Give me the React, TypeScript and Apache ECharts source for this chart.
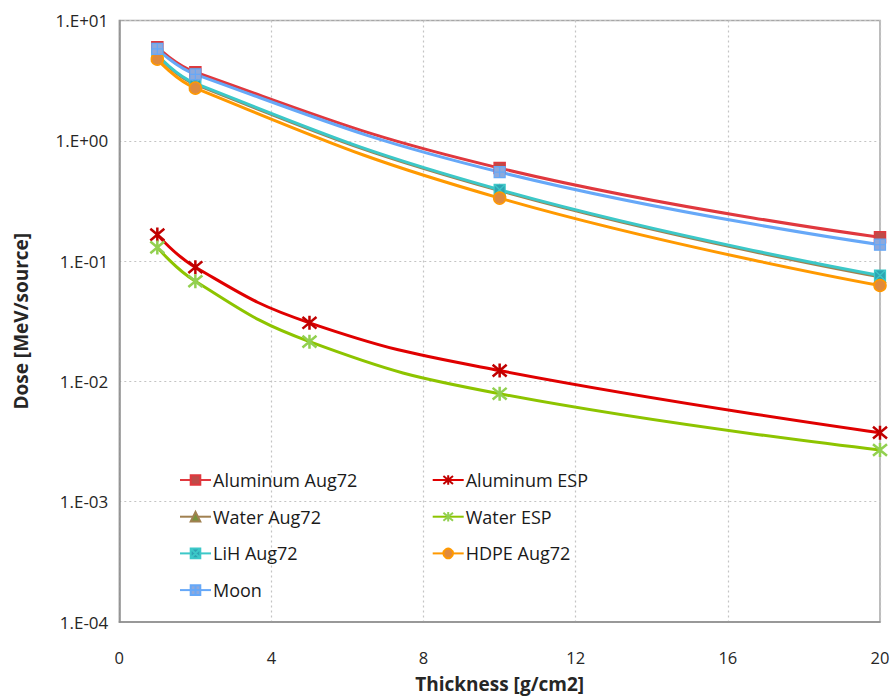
import React, { useEffect, useRef } from "react";
import * as echarts from "echarts";

const thicknessAug72 = [1, 2, 10, 20];
const thicknessESP = [1, 2, 5, 10, 20];

const aluminumAug72 = [6.0, 3.72, 0.593, 0.158];
const waterAug72 = [5.15, 2.95, 0.385, 0.074];
const lihAug72 = [5.2, 3.0, 0.392, 0.0759];
const hdpeAug72 = [4.77, 2.74, 0.334, 0.0627];
const moon = [5.8, 3.57, 0.55, 0.137];
const aluminumESP = [0.166, 0.0889, 0.0307, 0.0123, 0.00375];
const waterESP = [0.13, 0.068, 0.0214, 0.0079, 0.00269];

const xTicks = [0, 4, 8, 12, 16, 20];
const yTickLabels: Record<string, string> = {
  "1": "1.E+01",
  "0": "1.E+00",
  "-1": "1.E-01",
  "-2": "1.E-02",
  "-3": "1.E-03",
  "-4": "1.E-04",
};

const FONT = "'Open Sans', 'Noto Sans', sans-serif";

const ASTERISK = "path://M0,0L10,10M10,0L0,10M5,-1L5,11";
const SQUARE_X = "path://M0,0L10,0L10,10L0,10ZM0,0L10,10M10,0L0,10";
const SQUARE_PLUS = "path://M0,0L10,0L10,10L0,10ZM5,0L5,10M0,5L10,5";

function pairs(xs: number[], ys: number[]) {
  return xs.map((x, i) => [x, ys[i]]);
}

export default function App() {
  const ref = useRef<HTMLDivElement>(null);
  useEffect(() => {
    if (!ref.current) return;
    const chart = echarts.init(ref.current, undefined, { renderer: "svg" });
    const mk = (
      name: string,
      xs: number[],
      ys: number[],
      lineColor: string,
      symbol: string,
      symbolSize: number,
      fill: string,
      border: string,
      borderWidth: number
    ) => ({
      name,
      type: "line",
      smooth: 0.45,
      data: pairs(xs, ys),
      symbol,
      symbolSize,
      showSymbol: true,
      lineStyle: { color: lineColor, width: 3 },
      itemStyle: { color: fill, borderColor: border, borderWidth },
      emphasis: { disabled: true },
    });
    const series = [
      mk("Aluminum Aug72", thicknessAug72, aluminumAug72, "#E0383E", "rect", 11, "#BE4B48", "#E0383E", 1.5),
      mk("Aluminum ESP", thicknessESP, aluminumESP, "#E00000", ASTERISK, 14, "transparent", "#C00000", 2.5),
      mk("Water Aug72", thicknessAug72, waterAug72, "#A08050", "triangle", 11, "#77933C", "#A08050", 1.5),
      mk("Water ESP", thicknessESP, waterESP, "#8DC400", ASTERISK, 14, "transparent", "#92D050", 2.5),
      mk("LiH Aug72", thicknessAug72, lihAug72, "#3CC8C8", SQUARE_X, 11, "#2FA3B3", "#3CC8C8", 1.2),
      mk("HDPE Aug72", thicknessAug72, hdpeAug72, "#FF9900", "circle", 12, "#E08A3C", "#FF9900", 1.5),
      mk("Moon", thicknessAug72, moon, "#66A8F8", SQUARE_PLUS, 11, "#8EA9DB", "#66A8F8", 1.2),
    ];
    const legendCommon = {
      orient: "vertical",
      itemWidth: 31,
      itemHeight: 12,
      itemGap: 16.7,
      selectedMode: false,
      textStyle: { fontFamily: FONT, fontSize: 18, color: "#1a1a1a", lineHeight: 20, padding: [0, 0, 0, -3] },
      padding: 0,
    };
    chart.setOption({
      animation: false,
      backgroundColor: "#ffffff",
      grid: {
        left: 119.3,
        top: 20.5,
        width: 760.7,
        height: 601.5,
        show: true,
        borderColor: "#A6A6A6",
        borderWidth: 1.5,
        containLabel: false,
      },
      legend: [
        {
          ...legendCommon,
          left: 179,
          top: 470,
          data: ["Aluminum Aug72", "Water Aug72", "LiH Aug72", "Moon"],
        },
        {
          ...legendCommon,
          left: 431.7,
          top: 470,
          data: ["Aluminum ESP", "Water ESP", "HDPE Aug72"],
        },
      ],
      xAxis: {
        type: "value",
        min: xTicks[0],
        max: xTicks[xTicks.length - 1],
        interval: 4,
        name: "Thickness [g/cm2]",
        nameLocation: "middle",
        nameGap: 52,
        nameTextStyle: { fontFamily: FONT, fontSize: 19, fontWeight: "bold", color: "#262626" },
        axisLine: { lineStyle: { color: "#8C8C8C", width: 1.5 } },
        axisTick: { show: false },
        axisLabel: { fontFamily: FONT, fontSize: 16.5, color: "#262626", margin: 27 },
        splitLine: { show: true, lineStyle: { color: "#C4C4C4", type: [2, 3], width: 1.2 } },
      },
      yAxis: {
        type: "log",
        logBase: 10,
        min: 1e-4,
        max: 10,
        name: "Dose [MeV/source]",
        nameLocation: "middle",
        nameGap: 89,
        nameRotate: 90,
        nameTextStyle: { fontFamily: FONT, fontSize: 19, fontWeight: "bold", color: "#262626" },
        axisLine: { show: true, lineStyle: { color: "#8C8C8C", width: 1.5 } },
        axisTick: { show: false },
        axisLabel: {
          fontFamily: FONT,
          fontSize: 17,
          color: "#262626",
          margin: 11,
          formatter: (v: number) => yTickLabels[String(Math.round(Math.log10(v)))] ?? "",
        },
        splitLine: { show: true, lineStyle: { color: "#C4C4C4", type: [2, 3], width: 1.2 } },
      },
      series,
    });
    return () => chart.dispose();
  }, []);
  return (
    <div
      ref={ref}
      style={{ position: "fixed", left: 0, top: 0, width: 895, height: 700 }}
    />
  );
}
